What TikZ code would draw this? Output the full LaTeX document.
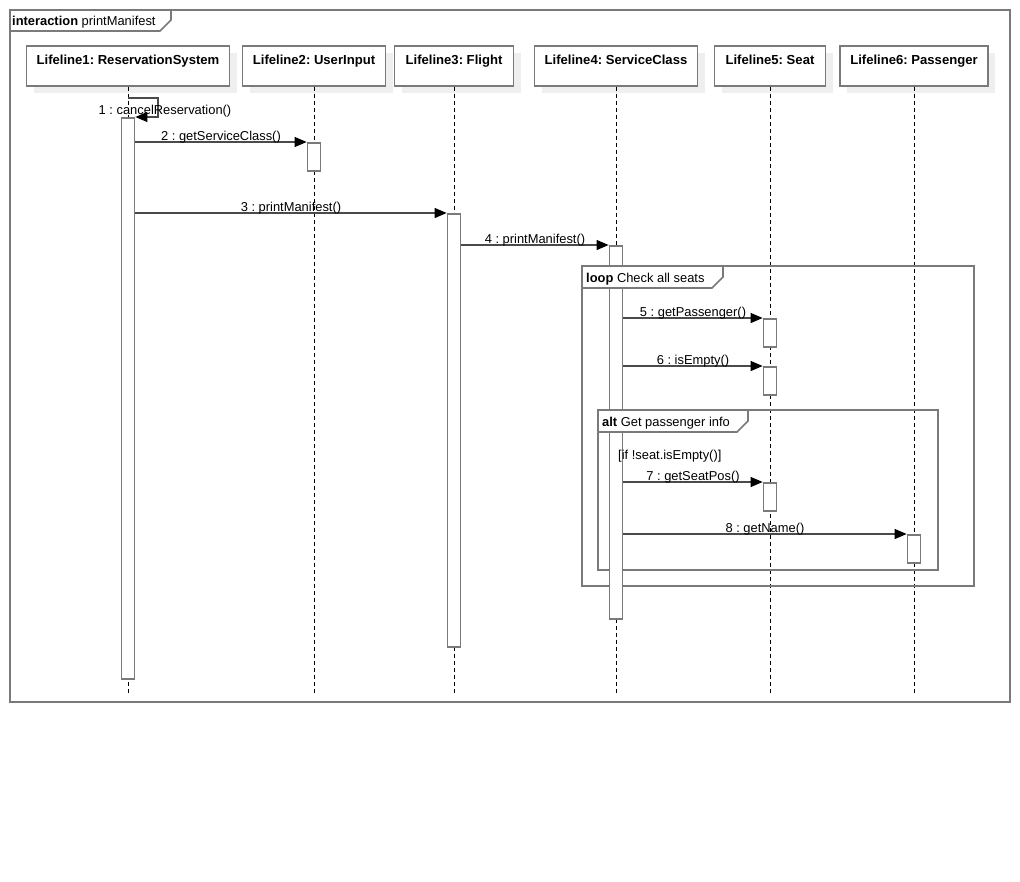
\documentclass[tikz,border=0pt]{standalone}
\usepackage{fontspec}
\setmainfont{Liberation Sans}
\usetikzlibrary{arrows.meta,shadows}
\definecolor{bord}{HTML}{7A7A7A}
\definecolor{shad}{HTML}{EFEFEF}
\definecolor{msgc}{HTML}{4A4A4A}
\frenchspacing
\begin{document}
\begin{tikzpicture}[x=1pt,y=-1pt,
  font=\fontsize{12.9}{14}\selectfont,
  frame/.style={draw=bord,line width=1.7pt},
  head/.style={draw=bord,line width=1.7pt,fill=white,minimum height=40pt,inner xsep=0pt,inner ysep=0pt,
    text height=12pt,text depth=14pt,anchor=north,font=\fontsize{13.1}{15}\selectfont\bfseries,
    drop shadow={shadow xshift=7pt,shadow yshift=-7pt,fill=shad,draw=none,opacity=1}},
  act/.style={draw=bord,line width=1.7pt,fill=white,minimum width=13pt,inner sep=0pt,anchor=north},
  life/.style={black,line width=0.9pt,dash pattern=on 4pt off 3pt},
  msg/.style={draw=msgc,line width=1.1pt,-{Triangle[length=12pt,width=10pt,color=black,fill=black]}},
  mlab/.style={above=-1.5pt,inner sep=0pt,text=black},
  flab/.style={anchor=base west,inner sep=0pt}]
\useasboundingbox (0,0) rectangle (1020,881);
\fill[white] (0,0) rectangle (1020,881);

% outer interaction frame
\draw[frame] (10,10) rectangle (1010,702);
\draw[frame] (10,31) -- (160,31) -- (171,20) -- (171,10);
\node[flab] (ftitle) at (12,25.5) {\textbf{interaction} printManifest};

% lifeline heads
\node[head,minimum width=203pt] (h1) at (128,45) {Lifeline1: ReservationSystem};
\node[head,minimum width=143pt] (h2) at (314,45) {Lifeline2: UserInput};
\node[head,minimum width=119pt] (h3) at (454,45) {Lifeline3: Flight};
\node[head,minimum width=163pt] (h4) at (616,45) {Lifeline4: ServiceClass};
\node[head,minimum width=111pt] (h5) at (770,45) {Lifeline5: Seat};
\node[head,minimum width=148pt] (h6) at (914,45) {Lifeline6: Passenger};

% lifelines
\coordinate (bot) at (0,694);
\foreach \i in {1,...,6}{\draw[life] (h\i.south) -- (h\i.south |- bot);}

% combined fragments (frames)
\draw[frame] (582,266) rectangle (974,586);
\draw[frame] (598,410) rectangle (938,570);

% activations
\node[act,minimum height=561pt] (a1) at (128,117) {};
\node[act,minimum height=28pt] (a2) at (314,142) {};
\node[act,minimum height=433pt] (a3) at (454,213) {};
\node[act,minimum height=373pt] (a4) at (616,245) {};
\node[act,minimum height=28pt] (a5) at (770,318) {};
\node[act,minimum height=28pt] (a6) at (770,366) {};
\node[act,minimum height=28pt] (a7) at (770,482) {};
\node[act,minimum height=28pt] (a8) at (914,534) {};

% fragment labels
\filldraw[frame,fill=white] (582,266) -- (582,288) -- (712,288) -- (723,277) -- (723,266) -- cycle;
\node[flab] (looplab) at (586,282) {\textbf{loop} Check all seats};
\filldraw[frame,fill=white] (598,410) -- (598,432) -- (737,432) -- (748,421) -- (748,410) -- cycle;
\node[flab] (altlab) at (602,426) {\textbf{alt} Get passenger info};
\node[flab] (guard) at (618,459) {[if !seat.isEmpty()]};

% messages
\coordinate (s1) at (h1.south |- 0,98);
\draw[msg] (s1) -- ++(30,0) |- (a1.north east);
\node[inner sep=0pt] (m1) at (165,111) {1 : cancelReservation()};
\draw[msg] (a1.east |- a2.north) -- node[mlab]{2 : getServiceClass()} (a2.north west);
\draw[msg] (a1.east |- a3.north) -- node[mlab]{3 : printManifest()} (a3.north west);
\draw[msg] (a3.east |- a4.north) -- node[mlab]{4 : printManifest()} (a4.north west);
\draw[msg] (a4.east |- a5.north) -- node[mlab]{5 : getPassenger()} (a5.north west);
\draw[msg] (a4.east |- a6.north) -- node[mlab]{6 : isEmpty()} (a6.north west);
\draw[msg] (a4.east |- a7.north) -- node[mlab]{7 : getSeatPos()} (a7.north west);
\draw[msg] (a4.east |- a8.north) -- node[mlab]{8 : getName()} (a8.north west);
\end{tikzpicture}
\end{document}
